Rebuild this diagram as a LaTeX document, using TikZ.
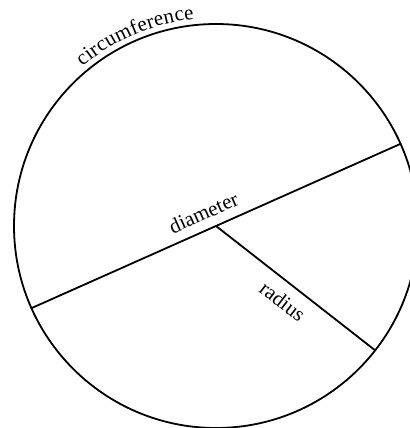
\documentclass[tikz,border=0pt]{standalone}
\usepackage{fontspec}
\setmainfont{Liberation Serif}
\usetikzlibrary{decorations.text}
\newcommand{\labelfont}{\fontsize{21bp}{25bp}\selectfont}

\begin{document}
\begin{tikzpicture}[x=1bp,y=1bp,line cap=round,line join=round,
  rim/.style={line width=1.8bp,black},
  part text/.style={font=\labelfont,sloped,inner sep=0pt}]
\useasboundingbox (0,0) rectangle (410,428);
% centre and the points on the rim
\coordinate (O) at (216,202);
\path (O) ++(24:202) coordinate (B);
\path (O) ++(204:202) coordinate (A);
\path (O) ++(-38:202) coordinate (R);
\draw[rim] (O) circle (202);
\draw[rim] (A) -- (B) node[part text,pos=0.485,above=9bp] (diam) {diameter};
\draw[rim] (O) -- (R) node[part text,pos=0.49,below=10bp] (rad) {radius};
\path[decorate,decoration={text along path,text align=center,raise=6bp,
  text={|\labelfont|circumference}}] (O) ++(135:202) arc (135:91:202);
\end{tikzpicture}
\end{document}
